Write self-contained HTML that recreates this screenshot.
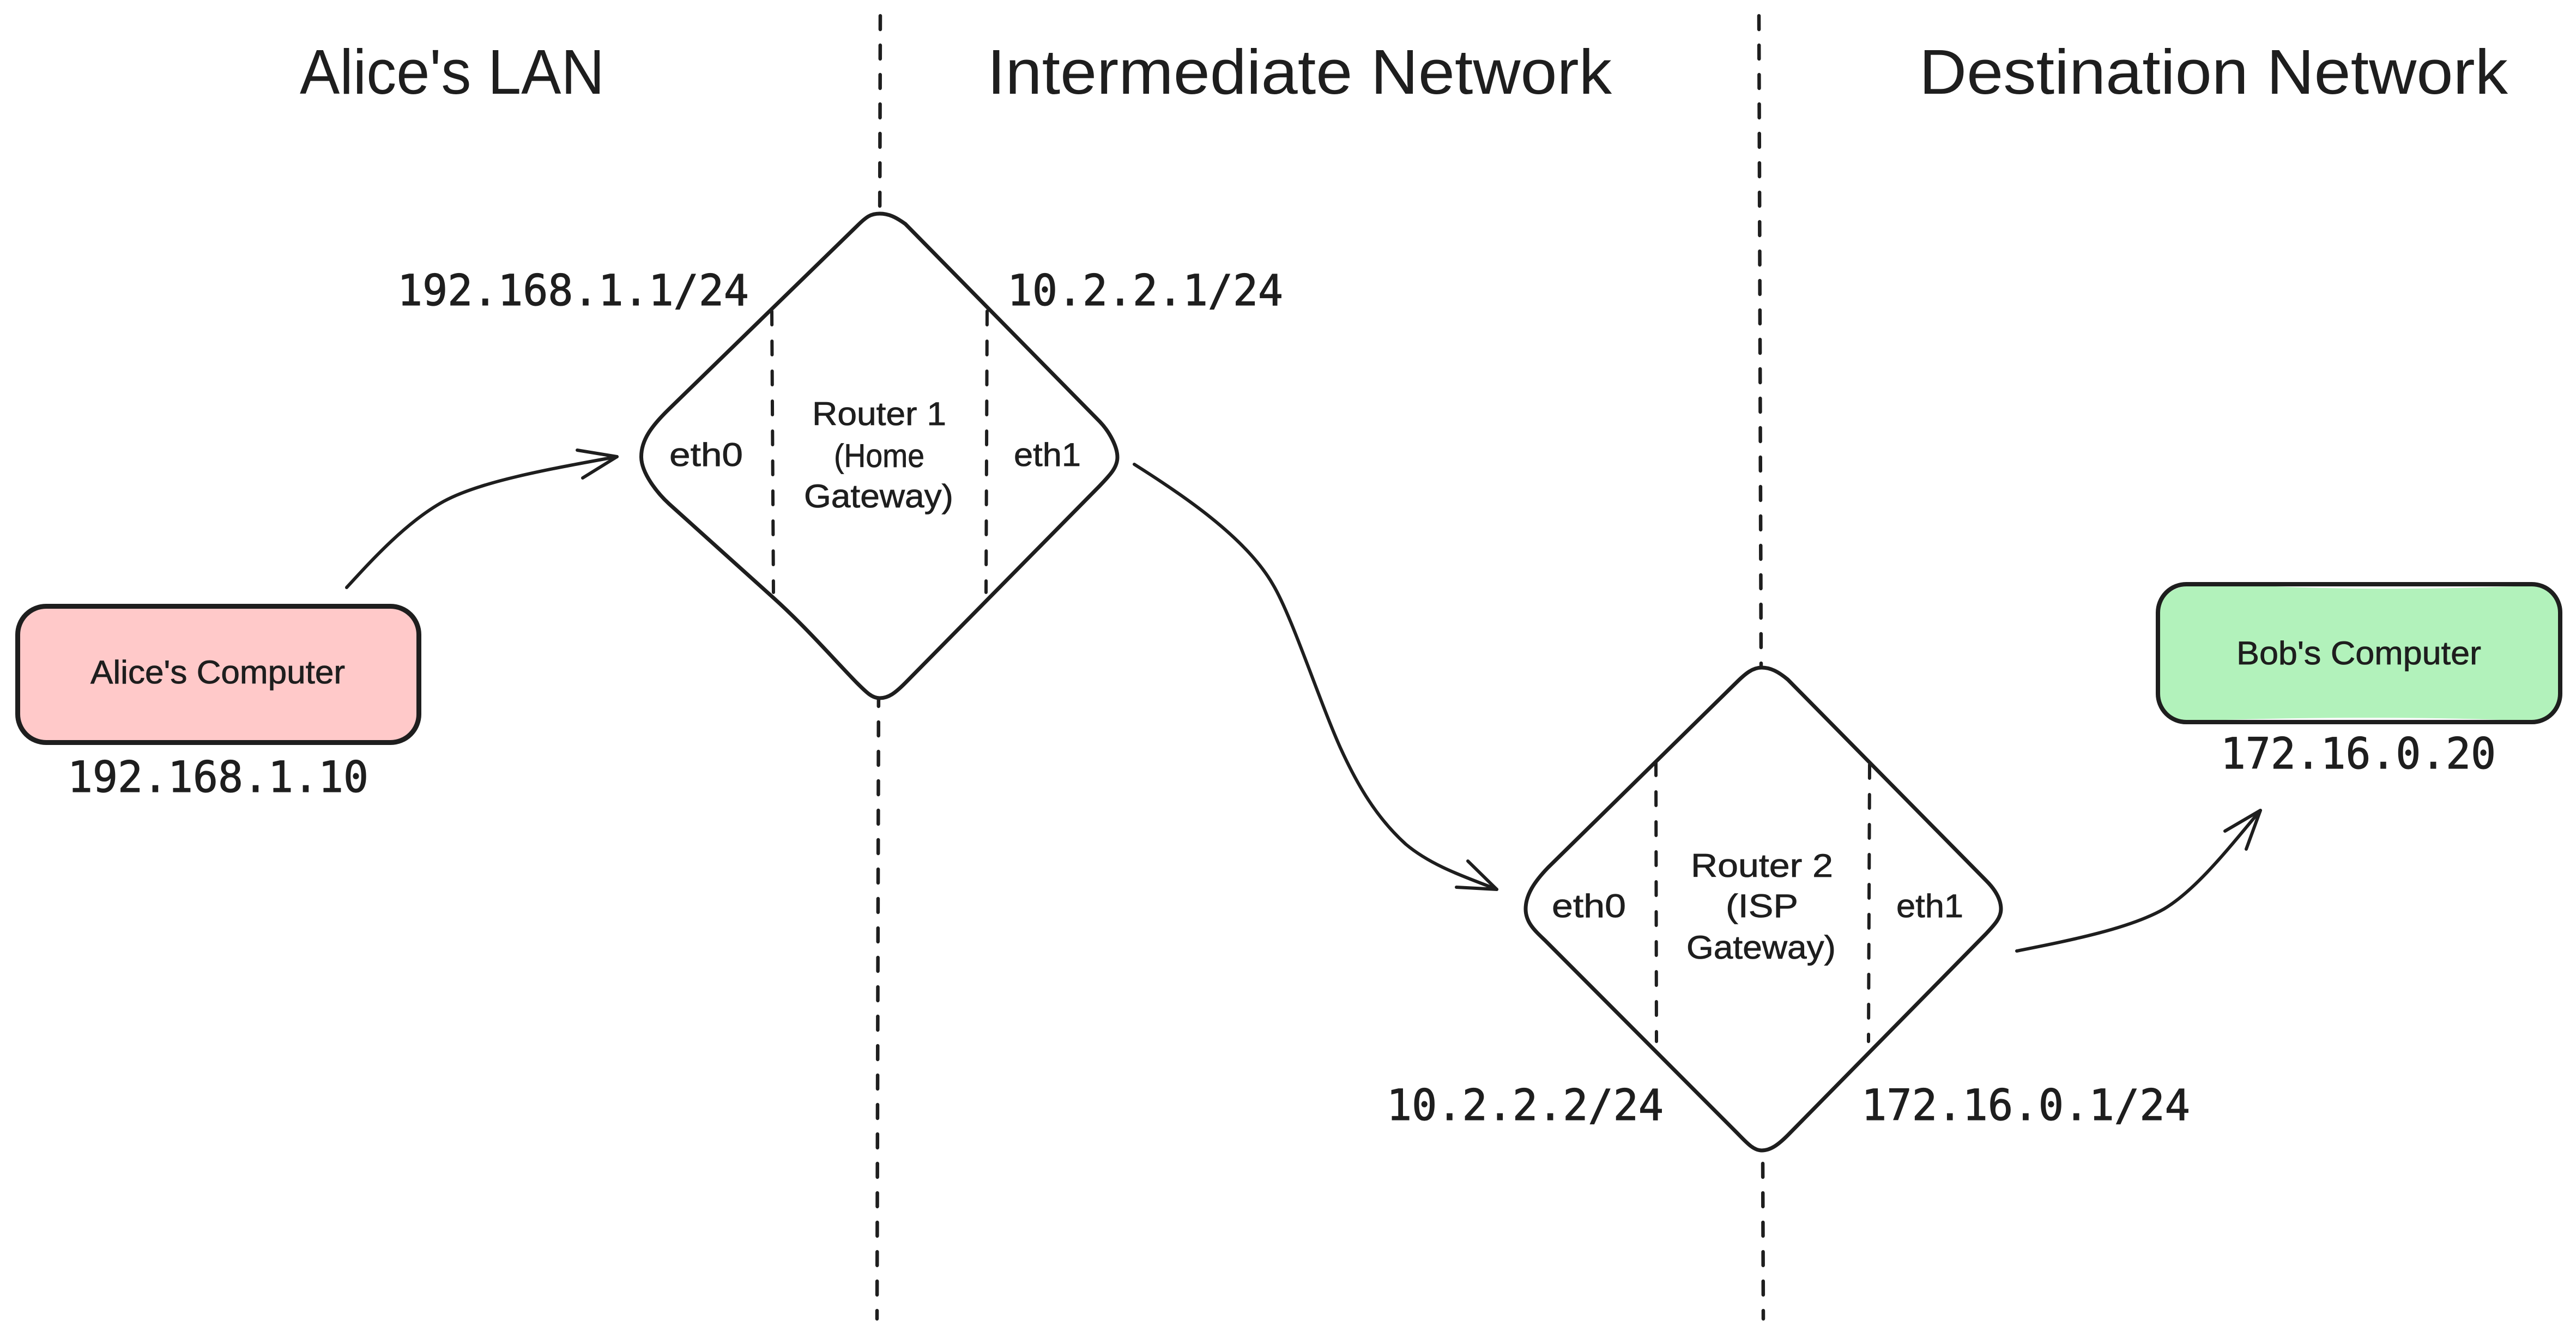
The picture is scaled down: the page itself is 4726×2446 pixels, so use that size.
<!DOCTYPE html>
<html>
<head>
<meta charset="utf-8">
<style>
html,body{margin:0;padding:0;background:#fff;}
svg{display:block;}
.hand{font-family:"Liberation Sans",sans-serif;fill:#1e1e1e;}
.h{font-size:116px;}
.s{font-size:60px;stroke:#1e1e1e;stroke-width:0.8px;}
.ip{font-family:"DejaVu Sans Mono","Liberation Mono",monospace;font-size:78px;fill:#1e1e1e;stroke:#1e1e1e;stroke-width:1.2px;}
.ln{fill:none;stroke:#1e1e1e;stroke-linecap:round;stroke-linejoin:round;}
</style>
</head>
<body>
<svg xmlns="http://www.w3.org/2000/svg" width="4726" height="2446" viewBox="0 0 4726 2446">
<rect width="4726" height="2446" fill="#fff"/>

<!-- vertical separators -->
<path class="ln" d="M1615 29 L1609 2420" stroke-width="6.5" stroke-dasharray="25 29"/>
<path class="ln" d="M3227 29 L3235 2420" stroke-width="6.5" stroke-dasharray="25 29"/>

<!-- titles -->
<text class="hand h" x="550" y="172" textLength="559" lengthAdjust="spacingAndGlyphs">Alice's LAN</text>
<text class="hand h" x="1811" y="172" textLength="1146" lengthAdjust="spacingAndGlyphs">Intermediate Network</text>
<text class="hand h" x="3521" y="172" textLength="1080" lengthAdjust="spacingAndGlyphs">Destination Network</text>

<!-- Router 1 -->
<path class="ln" style="fill:#fff" stroke-width="7" d="M1614 392 C1598 392 1590 397 1572 415 L1228 750 C1195 782 1176 808 1176.500 839 C1177 868 1205 904 1228 925 L1419 1097 C1480 1152 1530 1210 1572 1253 C1590 1271 1600 1281 1614 1281 C1630 1281 1642 1272 1661 1253 L2018 891 C2036 872 2050 858 2050 839 C2050 820 2036 793 2018 774 L1661 411 C1643 398 1630 392 1614 392 Z"/>
<path class="ln" stroke-width="6" stroke-dasharray="25 30" d="M1416 571 L1419 1087"/>
<path class="ln" stroke-width="6" stroke-dasharray="25 30" d="M1811 571 L1809 1087"/>
<text class="hand s" x="1228" y="855" textLength="135" lengthAdjust="spacingAndGlyphs">eth0</text>
<text class="hand s" x="1860" y="855" textLength="123" lengthAdjust="spacingAndGlyphs">eth1</text>
<text class="hand s" x="1490" y="780" textLength="246" lengthAdjust="spacingAndGlyphs">Router 1</text>
<text class="hand s" x="1530" y="857" textLength="166" lengthAdjust="spacingAndGlyphs">(Home</text>
<text class="hand s" x="1475" y="931" textLength="274" lengthAdjust="spacingAndGlyphs">Gateway)</text>

<!-- Router 2 -->
<path class="ln" style="fill:#fff" stroke-width="7" d="M3232 1225 C3216 1225 3203 1235 3185 1253 L2840 1592 C2815 1618 2799 1642 2799 1668 C2799 1692 2815 1707 2834 1725 L3185 2077 C3203 2095 3216 2111 3232 2111 C3248 2111 3262 2101 3280 2083 L3644 1713 C3660 1696 3671 1684 3671 1668 C3671 1650 3660 1632 3644 1616 L3280 1247 C3262 1232 3248 1225 3232 1225 Z"/>
<path class="ln" stroke-width="6" stroke-dasharray="25 30" d="M3038 1398 L3039 1911"/>
<path class="ln" stroke-width="6" stroke-dasharray="25 30" d="M3430 1403 L3428 1911"/>
<text class="hand s" x="2847" y="1683" textLength="136" lengthAdjust="spacingAndGlyphs">eth0</text>
<text class="hand s" x="3479" y="1683" textLength="123" lengthAdjust="spacingAndGlyphs">eth1</text>
<text class="hand s" x="3102" y="1609" textLength="261" lengthAdjust="spacingAndGlyphs">Router 2</text>
<text class="hand s" x="3166" y="1683" textLength="133" lengthAdjust="spacingAndGlyphs">(ISP</text>
<text class="hand s" x="3094" y="1759" textLength="274" lengthAdjust="spacingAndGlyphs">Gateway)</text>

<!-- Alice's computer -->
<rect x="32.500" y="1112.500" width="736" height="250" rx="52" ry="52" fill="#ffc9c9" stroke="#1e1e1e" stroke-width="9"/>
<text class="hand s" x="166" y="1254" textLength="467" lengthAdjust="spacingAndGlyphs">Alice's Computer</text>

<!-- Bob's computer -->
<path d="M3960 1125 C3962 1095 3985 1076 4020 1075 L4150 1075 C4300 1082 4450 1082 4640 1075 C4670 1072 4690 1090 4695 1125 L4695 1270 C4692 1305 4670 1322 4640 1323 C4450 1315 4250 1315 4020 1323 C3985 1322 3962 1305 3960 1270 Z" fill="#b2f2bb"/>
<rect x="3959" y="1072" width="738" height="253" rx="52" ry="52" fill="none" stroke="#1e1e1e" stroke-width="8"/>
<text class="hand s" x="4103" y="1219" textLength="449" lengthAdjust="spacingAndGlyphs">Bob's Computer</text>

<!-- IP labels -->
<text class="ip" x="729" y="560" textLength="645" lengthAdjust="spacingAndGlyphs">192.168.1.1/24</text>
<text class="ip" x="1848" y="560" textLength="506" lengthAdjust="spacingAndGlyphs">10.2.2.1/24</text>
<text class="ip" x="124" y="1453" textLength="552" lengthAdjust="spacingAndGlyphs">192.168.1.10</text>
<text class="ip" x="4074" y="1410" textLength="505" lengthAdjust="spacingAndGlyphs">172.16.0.20</text>
<text class="ip" x="2544" y="2055" textLength="508" lengthAdjust="spacingAndGlyphs">10.2.2.2/24</text>
<text class="ip" x="3415" y="2055" textLength="603" lengthAdjust="spacingAndGlyphs">172.16.0.1/24</text>

<!-- Arrows -->
<path class="ln" stroke-width="6" d="M636 1078 C680 1030 745 958 814 920 C880 884 1000 862 1132 838"/>
<path class="ln" stroke-width="6" d="M1059 826 L1132 838 L1069 877"/>
<path class="ln" stroke-width="6" d="M2081 852 C2165 905 2285 985 2335 1072 C2370 1130 2420 1285 2459 1372 C2490 1440 2525 1500 2579 1549 C2630 1592 2700 1613 2746 1632"/>
<path class="ln" stroke-width="6" d="M2693 1580 L2746 1632 L2672 1628"/>
<path class="ln" stroke-width="6" d="M3700 1745 C3790 1727 3905 1705 3970 1668 C4030 1632 4090 1555 4147 1487"/>
<path class="ln" stroke-width="6" d="M4082 1525 L4147 1487 L4121 1558"/>
</svg>
</body>
</html>
